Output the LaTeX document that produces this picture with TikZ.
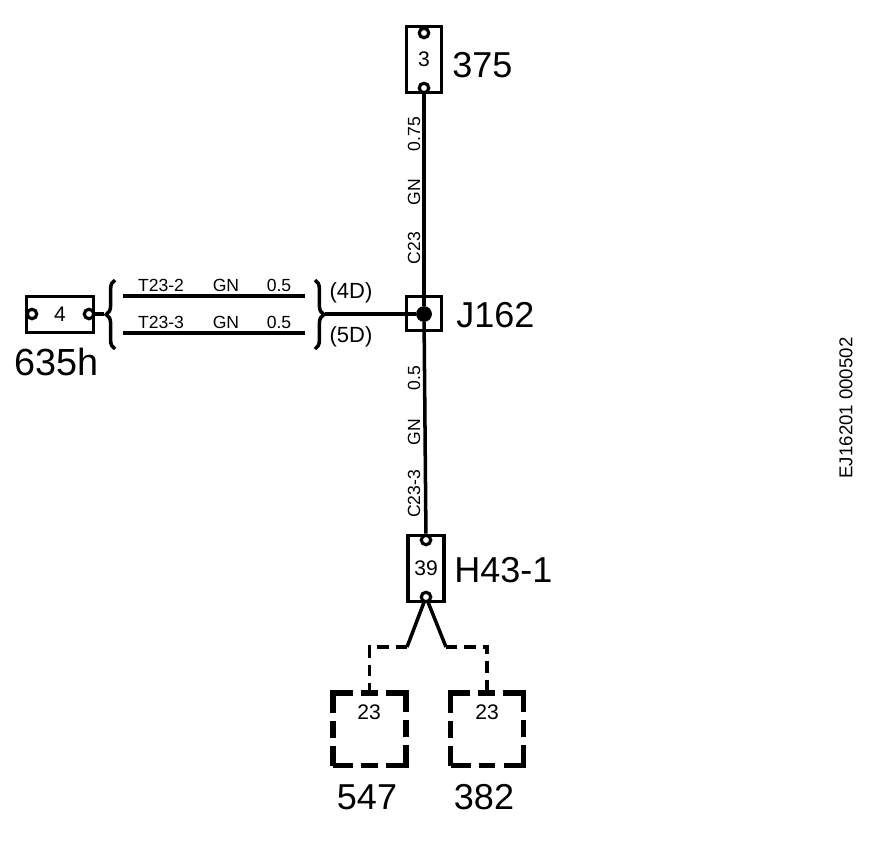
\documentclass[tikz,border=0pt]{standalone}
\usepackage{fontspec}
\setmainfont{Liberation Sans}
\usetikzlibrary{decorations.pathreplacing}
\tikzset{
    wire/.style={line width=2pt},
    thinwire/.style={line width=2pt},
    hidden/.style={line width=1.9pt, dash pattern=on 6.5pt off 4pt},
    pinbox/.style={draw, line width=2pt, inner sep=0pt, font=\fontsize{12}{14}\selectfont},
    pinhole/.style={draw, circle, fill=white, line width=1.8pt, inner sep=0pt, minimum size=0.19cm},
    dashbox/.style={draw, line width=3.4pt, inner sep=0pt, minimum size=1.46cm,
        dash pattern=on 22.8pt off 4.6pt on 9.6pt off 4.6pt, dash phase=11.4pt},
    bigtext/.style={font=\fontsize{20.5}{24}\selectfont, inner sep=0pt},
    smalltext/.style={font=\fontsize{10}{12}\selectfont, inner sep=0pt},
    sidetext/.style={smalltext, rotate=90},
    bracket/.style={line width=2pt, decorate, decoration={brace, amplitude=5pt}}
}
\begin{document}
\begin{tikzpicture}[x=0.02cm, y=-0.02cm]
    \useasboundingbox (0,0) rectangle (896,860);
    % connectors
    \node[pinbox, minimum width=0.7cm, minimum height=1.32cm] (con375) at (424,59.5) {3};
    \node[pinhole] (pin375a) at (424,33) {};
    \node[pinhole] (pin375b) at (424,88) {};
    \node[bigtext, anchor=west] (lab375) at (452,65) {375};
    \node[pinbox, minimum width=0.7cm, minimum height=0.68cm] (conJ162) at (424,313.5) {};
    \node[draw, circle, fill=black, inner sep=0pt, minimum size=0.3cm] (dotJ162) at (424,314) {};
    \node[bigtext, anchor=west] (labJ162) at (456,315) {J162};
    \node[pinbox, minimum width=0.72cm, minimum height=1.32cm] (con39) at (426,568.5) {39};
    \node[pinhole] (pin39a) at (426,540) {};
    \node[pinhole] (pin39b) at (426,597) {};
    \node[bigtext, anchor=west] (lab39) at (454,570) {H43-1};
    \node[pinbox, minimum width=1.34cm, minimum height=0.72cm] (con4) at (60,314.5) {4};
    \node[pinhole] (pin4a) at (32,314) {};
    \node[pinhole] (pin4b) at (89,314) {};
    \node[bigtext, font=\fontsize{21.5}{24}\selectfont] (lab635) at (57,362) {635h};
    % dashed boxes
    \node[dashbox] (box547) at (369.5,729) {};
    \node[smalltext, font=\fontsize{12}{14}\selectfont] (num547) at (369,712) {23};
    \node[bigtext] (lab547) at (367,797) {547};
    \node[dashbox] (box382) at (487,729) {};
    \node[smalltext, font=\fontsize{12}{14}\selectfont] (num382) at (487,712) {23};
    \node[bigtext] (lab382) at (484,797) {382};
    % wires
    \draw[wire] (pin375b) -- (dotJ162);
    \draw[wire] (dotJ162) -- (pin39a);
    \coordinate (kneeL) at (407,647);
    \coordinate (kneeR) at (446,647);
    \draw[wire] (pin39b) -- (kneeL);
    \draw[wire] (pin39b) -- (kneeR);
    \draw[hidden] (kneeL) -| (box547.north);
    \draw[hidden] (kneeR) -| (box382.north);
    \coordinate (busend) at (325,314);
    \draw[wire] (busend) -- (dotJ162);
    \coordinate (stubend) at (104,314);
    \draw[thinwire] (pin4b) -- (stubend);
    % branch wires
    \coordinate (topL) at (123,296);
    \coordinate (topR) at (305,296);
    \coordinate (lowL) at (123,333);
    \coordinate (lowR) at (305,333);
    \draw[thinwire] (topL) -- (topR);
    \draw[thinwire] (lowL) -- (lowR);
    \coordinate (braceLa) at (115,349);
    \coordinate (braceLb) at (115,280);
    \coordinate (braceRa) at (315,280);
    \coordinate (braceRb) at (315,349);
    \draw[bracket] (braceLa) -- (braceLb);
    \draw[bracket] (braceRa) -- (braceRb);
    % wire labels
    \node[smalltext] (topcode) at (161,285) {T23-2};
    \node[smalltext] (topcol) at (226,285) {GN};
    \node[smalltext] (topsize) at (279,285) {0.5};
    \node[smalltext] (lowcode) at (161,322) {T23-3};
    \node[smalltext] (lowcol) at (226,322) {GN};
    \node[smalltext] (lowsize) at (279,322) {0.5};
    \node[smalltext, font=\fontsize{12.5}{14}\selectfont] (ref4D) at (351,293) {(4D)};
    \node[smalltext, font=\fontsize{12.5}{14}\selectfont] (ref5D) at (351,337) {(5D)};
    \node[sidetext] (upsize) at (414,134) {0.75};
    \node[sidetext] (upcol) at (414,192) {GN};
    \node[sidetext] (upcode) at (414,248) {C23};
    \node[sidetext] (dnsize) at (414,378) {0.5};
    \node[sidetext] (dncol) at (414,432) {GN};
    \node[sidetext] (dncode) at (414,494) {C23-3};
    \node[sidetext, font=\fontsize{10.6}{12}\selectfont] (refno) at (846,408) {EJ16201 000502};
\end{tikzpicture}
\end{document}
